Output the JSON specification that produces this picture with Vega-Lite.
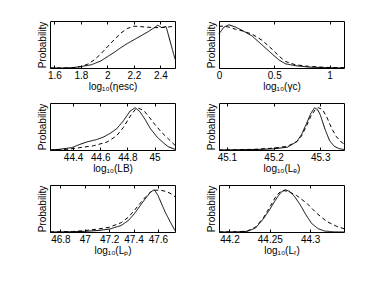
{
  "$schema": "https://vega.github.io/schema/vega-lite/v6.json",
  "padding": {"left": 36, "top": 20, "right": 0, "bottom": 0},
  "config": {
    "font": "Liberation Sans",
    "view": {"stroke": "black", "strokeWidth": 1},
    "axis": {"labelFont": "Liberation Sans", "titleFont": "Liberation Sans", "labelFontSize": 10, "titleFontSize": 10, "titleFontWeight": "normal", "labelColor": "black", "titleColor": "black", "domain": false, "grid": false, "tickColor": "black"},
    "axisY": {"title": "Probability", "labels": false, "ticks": false, "titlePadding": 3},
    "line": {"color": "black", "strokeWidth": 1, "clip": true}
  },
  "datasets": {
    "p1": [
      {"x": 1.567, "p": 0, "s": "a"}, {"x": 1.65, "p": 0, "s": "a"}, {"x": 1.73, "p": 0.005, "s": "a"}, {"x": 1.8, "p": 0.03, "s": "a"}, {"x": 1.88, "p": 0.07, "s": "a"}, {"x": 1.95, "p": 0.15, "s": "a"}, {"x": 2.0, "p": 0.24, "s": "a"}, {"x": 2.05, "p": 0.33, "s": "a"}, {"x": 2.1, "p": 0.43, "s": "a"}, {"x": 2.15, "p": 0.52, "s": "a"}, {"x": 2.2, "p": 0.6, "s": "a"}, {"x": 2.25, "p": 0.68, "s": "a"}, {"x": 2.3, "p": 0.76, "s": "a"}, {"x": 2.35, "p": 0.85, "s": "a"}, {"x": 2.38, "p": 0.91, "s": "a"}, {"x": 2.41, "p": 0.86, "s": "a"}, {"x": 2.443, "p": 0.88, "s": "a"}, {"x": 2.51, "p": 0.19, "s": "a"},
      {"x": 1.567, "p": 0, "s": "b"}, {"x": 1.72, "p": 0, "s": "b"}, {"x": 1.8, "p": 0.03, "s": "b"}, {"x": 1.85, "p": 0.08, "s": "b"}, {"x": 1.9, "p": 0.17, "s": "b"}, {"x": 1.95, "p": 0.3, "s": "b"}, {"x": 2.0, "p": 0.45, "s": "b"}, {"x": 2.05, "p": 0.6, "s": "b"}, {"x": 2.1, "p": 0.74, "s": "b"}, {"x": 2.15, "p": 0.84, "s": "b"}, {"x": 2.2, "p": 0.89, "s": "b"}, {"x": 2.25, "p": 0.88, "s": "b"}, {"x": 2.3, "p": 0.87, "s": "b"}, {"x": 2.35, "p": 0.86, "s": "b"}, {"x": 2.4, "p": 0.86, "s": "b"}, {"x": 2.45, "p": 0.87, "s": "b"}, {"x": 2.51, "p": 0.89, "s": "b"}
    ],
    "p2": [
      {"x": 0, "p": 0.73, "s": "a"}, {"x": 0.045, "p": 0.87, "s": "a"}, {"x": 0.09, "p": 0.92, "s": "a"}, {"x": 0.15, "p": 0.87, "s": "a"}, {"x": 0.21, "p": 0.8, "s": "a"}, {"x": 0.3, "p": 0.68, "s": "a"}, {"x": 0.39, "p": 0.49, "s": "a"}, {"x": 0.48, "p": 0.3, "s": "a"}, {"x": 0.54, "p": 0.175, "s": "a"}, {"x": 0.6, "p": 0.09, "s": "a"}, {"x": 0.69, "p": 0.05, "s": "a"}, {"x": 0.81, "p": 0.02, "s": "a"}, {"x": 0.96, "p": 0.007, "s": "a"}, {"x": 1.131, "p": 0, "s": "a"},
      {"x": 0, "p": 0.89, "s": "b"}, {"x": 0.045, "p": 0.89, "s": "b"}, {"x": 0.09, "p": 0.87, "s": "b"}, {"x": 0.15, "p": 0.825, "s": "b"}, {"x": 0.21, "p": 0.79, "s": "b"}, {"x": 0.3, "p": 0.72, "s": "b"}, {"x": 0.39, "p": 0.59, "s": "b"}, {"x": 0.48, "p": 0.4, "s": "b"}, {"x": 0.54, "p": 0.26, "s": "b"}, {"x": 0.6, "p": 0.14, "s": "b"}, {"x": 0.69, "p": 0.07, "s": "b"}, {"x": 0.81, "p": 0.035, "s": "b"}, {"x": 0.96, "p": 0.014, "s": "b"}, {"x": 1.131, "p": 0.007, "s": "b"}
    ],
    "p3": [
      {"x": 44.23, "p": 0, "s": "a"}, {"x": 44.3, "p": 0.015, "s": "a"}, {"x": 44.39, "p": 0.05, "s": "a"}, {"x": 44.45, "p": 0.12, "s": "a"}, {"x": 44.5, "p": 0.17, "s": "a"}, {"x": 44.57, "p": 0.22, "s": "a"}, {"x": 44.62, "p": 0.27, "s": "a"}, {"x": 44.67, "p": 0.35, "s": "a"}, {"x": 44.72, "p": 0.45, "s": "a"}, {"x": 44.77, "p": 0.62, "s": "a"}, {"x": 44.82, "p": 0.83, "s": "a"}, {"x": 44.857, "p": 0.9, "s": "a"}, {"x": 44.89, "p": 0.82, "s": "a"}, {"x": 44.93, "p": 0.65, "s": "a"}, {"x": 44.97, "p": 0.45, "s": "a"}, {"x": 45.02, "p": 0.27, "s": "a"}, {"x": 45.07, "p": 0.14, "s": "a"}, {"x": 45.1, "p": 0.07, "s": "a"}, {"x": 45.15, "p": 0.015, "s": "a"},
      {"x": 44.23, "p": 0, "s": "b"}, {"x": 44.35, "p": 0.01, "s": "b"}, {"x": 44.45, "p": 0.05, "s": "b"}, {"x": 44.55, "p": 0.09, "s": "b"}, {"x": 44.65, "p": 0.17, "s": "b"}, {"x": 44.72, "p": 0.3, "s": "b"}, {"x": 44.77, "p": 0.48, "s": "b"}, {"x": 44.82, "p": 0.72, "s": "b"}, {"x": 44.86, "p": 0.87, "s": "b"}, {"x": 44.88, "p": 0.89, "s": "b"}, {"x": 44.92, "p": 0.84, "s": "b"}, {"x": 44.96, "p": 0.7, "s": "b"}, {"x": 45.0, "p": 0.55, "s": "b"}, {"x": 45.05, "p": 0.38, "s": "b"}, {"x": 45.1, "p": 0.24, "s": "b"}, {"x": 45.15, "p": 0.1, "s": "b"}
    ],
    "p4": [
      {"x": 45.083, "p": 0, "s": "a"}, {"x": 45.12, "p": 0.005, "s": "a"}, {"x": 45.16, "p": 0.01, "s": "a"}, {"x": 45.2, "p": 0.025, "s": "a"}, {"x": 45.23, "p": 0.06, "s": "a"}, {"x": 45.25, "p": 0.18, "s": "a"}, {"x": 45.26, "p": 0.33, "s": "a"}, {"x": 45.27, "p": 0.55, "s": "a"}, {"x": 45.28, "p": 0.78, "s": "a"}, {"x": 45.288, "p": 0.9, "s": "a"}, {"x": 45.295, "p": 0.85, "s": "a"}, {"x": 45.3, "p": 0.75, "s": "a"}, {"x": 45.31, "p": 0.45, "s": "a"}, {"x": 45.32, "p": 0.2, "s": "a"}, {"x": 45.33, "p": 0.08, "s": "a"}, {"x": 45.34, "p": 0.03, "s": "a"}, {"x": 45.351, "p": 0.01, "s": "a"},
      {"x": 45.083, "p": 0, "s": "b"}, {"x": 45.12, "p": 0.005, "s": "b"}, {"x": 45.16, "p": 0.015, "s": "b"}, {"x": 45.2, "p": 0.04, "s": "b"}, {"x": 45.23, "p": 0.08, "s": "b"}, {"x": 45.25, "p": 0.18, "s": "b"}, {"x": 45.26, "p": 0.3, "s": "b"}, {"x": 45.27, "p": 0.5, "s": "b"}, {"x": 45.28, "p": 0.72, "s": "b"}, {"x": 45.29, "p": 0.87, "s": "b"}, {"x": 45.296, "p": 0.9, "s": "b"}, {"x": 45.305, "p": 0.86, "s": "b"}, {"x": 45.315, "p": 0.68, "s": "b"}, {"x": 45.325, "p": 0.45, "s": "b"}, {"x": 45.335, "p": 0.28, "s": "b"}, {"x": 45.345, "p": 0.17, "s": "b"}, {"x": 45.351, "p": 0.13, "s": "b"}
    ],
    "p5": [
      {"x": 46.715, "p": 0, "s": "a"}, {"x": 46.9, "p": 0.005, "s": "a"}, {"x": 47.0, "p": 0.014, "s": "a"}, {"x": 47.1, "p": 0.03, "s": "a"}, {"x": 47.2, "p": 0.06, "s": "a"}, {"x": 47.3, "p": 0.14, "s": "a"}, {"x": 47.36, "p": 0.25, "s": "a"}, {"x": 47.41, "p": 0.4, "s": "a"}, {"x": 47.46, "p": 0.58, "s": "a"}, {"x": 47.5, "p": 0.72, "s": "a"}, {"x": 47.54, "p": 0.85, "s": "a"}, {"x": 47.57, "p": 0.9, "s": "a"}, {"x": 47.6, "p": 0.78, "s": "a"}, {"x": 47.63, "p": 0.6, "s": "a"}, {"x": 47.66, "p": 0.42, "s": "a"}, {"x": 47.7, "p": 0.22, "s": "a"}, {"x": 47.74, "p": 0.03, "s": "a"},
      {"x": 46.715, "p": 0, "s": "b"}, {"x": 46.9, "p": 0.01, "s": "b"}, {"x": 47.0, "p": 0.03, "s": "b"}, {"x": 47.1, "p": 0.06, "s": "b"}, {"x": 47.2, "p": 0.1, "s": "b"}, {"x": 47.3, "p": 0.2, "s": "b"}, {"x": 47.36, "p": 0.32, "s": "b"}, {"x": 47.41, "p": 0.47, "s": "b"}, {"x": 47.46, "p": 0.63, "s": "b"}, {"x": 47.5, "p": 0.75, "s": "b"}, {"x": 47.54, "p": 0.85, "s": "b"}, {"x": 47.58, "p": 0.89, "s": "b"}, {"x": 47.62, "p": 0.89, "s": "b"}, {"x": 47.67, "p": 0.86, "s": "b"}, {"x": 47.71, "p": 0.81, "s": "b"}, {"x": 47.74, "p": 0.75, "s": "b"}
    ],
    "p6": [
      {"x": 44.187, "p": 0, "s": "a"}, {"x": 44.21, "p": 0.003, "s": "a"}, {"x": 44.222, "p": 0.015, "s": "a"}, {"x": 44.232, "p": 0.08, "s": "a"}, {"x": 44.242, "p": 0.28, "s": "a"}, {"x": 44.25, "p": 0.48, "s": "a"}, {"x": 44.257, "p": 0.68, "s": "a"}, {"x": 44.263, "p": 0.83, "s": "a"}, {"x": 44.269, "p": 0.9, "s": "a"}, {"x": 44.275, "p": 0.86, "s": "a"}, {"x": 44.281, "p": 0.75, "s": "a"}, {"x": 44.288, "p": 0.57, "s": "a"}, {"x": 44.295, "p": 0.36, "s": "a"}, {"x": 44.302, "p": 0.18, "s": "a"}, {"x": 44.31, "p": 0.07, "s": "a"}, {"x": 44.318, "p": 0.02, "s": "a"}, {"x": 44.33, "p": 0.003, "s": "a"}, {"x": 44.342, "p": 0, "s": "a"},
      {"x": 44.187, "p": 0, "s": "b"}, {"x": 44.21, "p": 0.004, "s": "b"}, {"x": 44.222, "p": 0.02, "s": "b"}, {"x": 44.232, "p": 0.1, "s": "b"}, {"x": 44.242, "p": 0.3, "s": "b"}, {"x": 44.25, "p": 0.53, "s": "b"}, {"x": 44.258, "p": 0.77, "s": "b"}, {"x": 44.265, "p": 0.89, "s": "b"}, {"x": 44.273, "p": 0.86, "s": "b"}, {"x": 44.283, "p": 0.78, "s": "b"}, {"x": 44.296, "p": 0.61, "s": "b"}, {"x": 44.308, "p": 0.4, "s": "b"}, {"x": 44.321, "p": 0.22, "s": "b"}, {"x": 44.333, "p": 0.12, "s": "b"}, {"x": 44.342, "p": 0.07, "s": "b"}
    ]
  },
  "vconcat": [
    {"hconcat": [
      {"width": 125, "height": 47, "data": {"name": "p1"}, "resolve": {"axis": {"x": "independent"}},
       "layer": [
        {"mark": "line", "encoding": {
          "x": {"field": "x", "type": "quantitative", "scale": {"domain": [1.567, 2.51], "nice": false, "zero": false}, "axis": {"title": "log₁₀(ηesc)", "values": [1.6, 1.8, 2, 2.2, 2.4], "format": "~f", "tickSize": -3, "labelPadding": 5, "titlePadding": 1, "labelFlush": false}},
          "y": {"field": "p", "type": "quantitative", "scale": {"domain": [0, 1], "nice": false}, "title": "Probability"},
          "strokeDash": {"field": "s", "type": "nominal", "scale": {"domain": ["a", "b"], "range": [[1, 0], [4, 3]]}, "legend": null}}},
        {"mark": {"type": "line", "opacity": 0}, "encoding": {
          "x": {"field": "x", "type": "quantitative", "axis": {"orient": "top", "labels": false, "title": null, "values": [1.6, 1.8, 2, 2.2, 2.4], "tickSize": -3}},
          "y": {"field": "p", "type": "quantitative", "title": "Probability"},
          "detail": {"field": "s"}}}
       ]},
      {"width": 125, "height": 47, "data": {"name": "p2"}, "resolve": {"axis": {"x": "independent"}},
       "layer": [
        {"mark": "line", "encoding": {
          "x": {"field": "x", "type": "quantitative", "scale": {"domain": [0, 1.131], "nice": false, "zero": false}, "axis": {"title": "log₁₀(γc)", "values": [0, 0.5, 1], "format": "~f", "tickSize": -3, "labelPadding": 5, "titlePadding": 1, "labelFlush": false}},
          "y": {"field": "p", "type": "quantitative", "scale": {"domain": [0, 1], "nice": false}, "title": "Probability"},
          "strokeDash": {"field": "s", "type": "nominal", "scale": {"domain": ["a", "b"], "range": [[1, 0], [4, 3]]}, "legend": null}}},
        {"mark": {"type": "line", "opacity": 0}, "encoding": {
          "x": {"field": "x", "type": "quantitative", "axis": {"orient": "top", "labels": false, "title": null, "values": [0, 0.5, 1], "tickSize": -3}},
          "y": {"field": "p", "type": "quantitative", "title": "Probability"},
          "detail": {"field": "s"}}}
       ]}
    ], "spacing": 27},
    {"hconcat": [
      {"width": 125, "height": 47, "data": {"name": "p3"}, "resolve": {"axis": {"x": "independent"}},
       "layer": [
        {"mark": "line", "encoding": {
          "x": {"field": "x", "type": "quantitative", "scale": {"domain": [44.23, 45.15], "nice": false, "zero": false}, "axis": {"title": "log₁₀(LB)", "values": [44.4, 44.6, 44.8, 45], "format": "~f", "tickSize": -3, "labelPadding": 5, "titlePadding": 1, "labelFlush": false}},
          "y": {"field": "p", "type": "quantitative", "scale": {"domain": [0, 1], "nice": false}, "title": "Probability"},
          "strokeDash": {"field": "s", "type": "nominal", "scale": {"domain": ["a", "b"], "range": [[1, 0], [4, 3]]}, "legend": null}}},
        {"mark": {"type": "line", "opacity": 0}, "encoding": {
          "x": {"field": "x", "type": "quantitative", "axis": {"orient": "top", "labels": false, "title": null, "values": [44.4, 44.6, 44.8, 45], "tickSize": -3}},
          "y": {"field": "p", "type": "quantitative", "title": "Probability"},
          "detail": {"field": "s"}}}
       ]},
      {"width": 125, "height": 47, "data": {"name": "p4"}, "resolve": {"axis": {"x": "independent"}},
       "layer": [
        {"mark": "line", "encoding": {
          "x": {"field": "x", "type": "quantitative", "scale": {"domain": [45.083, 45.351], "nice": false, "zero": false}, "axis": {"title": "log₁₀(Lₑ)", "values": [45.1, 45.2, 45.3], "format": "~f", "tickSize": -3, "labelPadding": 5, "titlePadding": 1, "labelFlush": false}},
          "y": {"field": "p", "type": "quantitative", "scale": {"domain": [0, 1], "nice": false}, "title": "Probability"},
          "strokeDash": {"field": "s", "type": "nominal", "scale": {"domain": ["a", "b"], "range": [[1, 0], [4, 3]]}, "legend": null}}},
        {"mark": {"type": "line", "opacity": 0}, "encoding": {
          "x": {"field": "x", "type": "quantitative", "axis": {"orient": "top", "labels": false, "title": null, "values": [45.1, 45.2, 45.3], "tickSize": -3}},
          "y": {"field": "p", "type": "quantitative", "title": "Probability"},
          "detail": {"field": "s"}}}
       ]}
    ], "spacing": 27},
    {"hconcat": [
      {"width": 125, "height": 47, "data": {"name": "p5"}, "resolve": {"axis": {"x": "independent"}},
       "layer": [
        {"mark": "line", "encoding": {
          "x": {"field": "x", "type": "quantitative", "scale": {"domain": [46.715, 47.74], "nice": false, "zero": false}, "axis": {"title": "log₁₀(Lₚ)", "values": [46.8, 47, 47.2, 47.4, 47.6], "format": "~f", "tickSize": -3, "labelPadding": 5, "titlePadding": 1, "labelFlush": false}},
          "y": {"field": "p", "type": "quantitative", "scale": {"domain": [0, 1], "nice": false}, "title": "Probability"},
          "strokeDash": {"field": "s", "type": "nominal", "scale": {"domain": ["a", "b"], "range": [[1, 0], [4, 3]]}, "legend": null}}},
        {"mark": {"type": "line", "opacity": 0}, "encoding": {
          "x": {"field": "x", "type": "quantitative", "axis": {"orient": "top", "labels": false, "title": null, "values": [46.8, 47, 47.2, 47.4, 47.6], "tickSize": -3}},
          "y": {"field": "p", "type": "quantitative", "title": "Probability"},
          "detail": {"field": "s"}}}
       ]},
      {"width": 125, "height": 47, "data": {"name": "p6"}, "resolve": {"axis": {"x": "independent"}},
       "layer": [
        {"mark": "line", "encoding": {
          "x": {"field": "x", "type": "quantitative", "scale": {"domain": [44.187, 44.342], "nice": false, "zero": false}, "axis": {"title": "log₁₀(Lᵣ)", "values": [44.2, 44.25, 44.3], "format": "~f", "tickSize": -3, "labelPadding": 5, "titlePadding": 1, "labelFlush": false}},
          "y": {"field": "p", "type": "quantitative", "scale": {"domain": [0, 1], "nice": false}, "title": "Probability"},
          "strokeDash": {"field": "s", "type": "nominal", "scale": {"domain": ["a", "b"], "range": [[1, 0], [4, 3]]}, "legend": null}}},
        {"mark": {"type": "line", "opacity": 0}, "encoding": {
          "x": {"field": "x", "type": "quantitative", "axis": {"orient": "top", "labels": false, "title": null, "values": [44.2, 44.25, 44.3], "tickSize": -3}},
          "y": {"field": "p", "type": "quantitative", "title": "Probability"},
          "detail": {"field": "s"}}}
       ]}
    ], "spacing": 27}
  ],
  "spacing": 10
}
